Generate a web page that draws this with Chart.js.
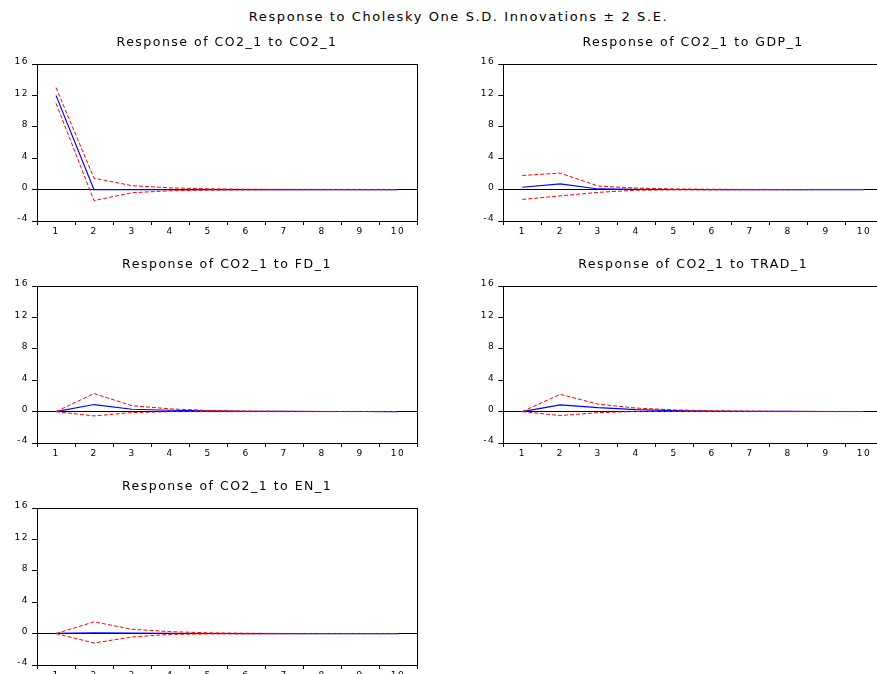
<!DOCTYPE html>
<html><head><meta charset="utf-8">
<script src="https://cdn.jsdelivr.net/npm/chart.js@4/dist/chart.umd.min.js"></script>
<style>
html,body{margin:0;padding:0;overflow:hidden;background:#fff;width:877px;height:674px;}
#main{position:absolute;left:0;top:9px;width:917px;text-align:center;font:13px 'DejaVu Sans',sans-serif;line-height:16px;letter-spacing:1.6px;color:#000;white-space:nowrap;}
canvas{position:absolute;}
</style></head><body>
<div id="main">Response to Cholesky One S.D. Innovations ± 2 S.E.</div>
<canvas id="c1" width="440" height="220" style="left:0px;top:26px"></canvas>
<canvas id="c2" width="424" height="220" style="left:466px;top:26px"></canvas>
<canvas id="c3" width="440" height="220" style="left:0px;top:248px"></canvas>
<canvas id="c4" width="424" height="220" style="left:466px;top:248px"></canvas>
<canvas id="c5" width="440" height="220" style="left:0px;top:470px"></canvas>
<script>
// ---- data ----
const periods = ['1','2','3','4','5','6','7','8','9','10'];
const yTicks = [-4, 0, 4, 8, 12, 16];
const panelTitles = [
  'Response of CO2_1 to CO2_1',
  'Response of CO2_1 to GDP_1',
  'Response of CO2_1 to FD_1',
  'Response of CO2_1 to TRAD_1',
  'Response of CO2_1 to EN_1'
];

const co2Resp  = [12.0, 0.0, 0.0, 0.0, 0.0, 0.0, 0.0, 0.0, 0.0, 0.0];
const co2Upper = [13.0, 1.45, 0.5, 0.22, 0.1, 0.05, 0.03, 0.02, 0.01, 0.01];
const co2Lower = [11.0, -1.4, -0.4, -0.15, -0.06, -0.03, -0.02, -0.01, -0.01, -0.01];

const gdpResp  = [0.3, 0.72, 0.08, 0.02, 0.01, 0.0, 0.0, 0.0, 0.0, 0.0];
const gdpUpper = [1.8, 2.1, 0.45, 0.2, 0.08, 0.04, 0.02, 0.01, 0.01, 0.01];
const gdpLower = [-1.25, -0.8, -0.35, -0.08, -0.03, -0.02, -0.01, -0.01, 0.0, 0.0];

const fdResp  = [0.0, 0.9, 0.3, 0.17, 0.08, 0.04, 0.02, 0.01, 0.01, 0.0];
const fdUpper = [0.0, 2.3, 0.75, 0.35, 0.15, 0.07, 0.04, 0.02, 0.01, 0.01];
const fdLower = [0.0, -0.55, -0.13, 0.0, 0.0, 0.0, 0.0, 0.0, 0.0, 0.0];

const tradResp  = [0.0, 0.85, 0.5, 0.26, 0.13, 0.07, 0.04, 0.02, 0.01, 0.01];
const tradUpper = [0.0, 2.2, 0.95, 0.45, 0.22, 0.11, 0.06, 0.03, 0.02, 0.01];
const tradLower = [0.0, -0.5, -0.13, 0.02, 0.02, 0.01, 0.01, 0.0, 0.0, 0.0];

const enResp  = [0.03, 0.1, 0.06, 0.03, 0.01, 0.0, 0.0, 0.0, 0.0, 0.0];
const enUpper = [0.0, 1.5, 0.55, 0.25, 0.1, 0.05, 0.02, 0.01, 0.01, 0.0];
const enLower = [0.0, -1.2, -0.43, -0.1, -0.04, -0.02, -0.01, 0.0, 0.0, 0.0];

// ---- drawing ----
Chart.defaults.font.family = "'DejaVu Sans', sans-serif";
Chart.defaults.color = '#000';

const framePlugin = {
  id: 'frame',
  beforeDraw(chart) { chart.ctx.letterSpacing = '1.5px'; },
  afterDraw(chart) {
    const a = chart.chartArea, ctx = chart.ctx;
    ctx.save();
    ctx.strokeStyle = '#000';
    ctx.lineWidth = 1;
    ctx.strokeRect(Math.round(a.left) + 0.5, Math.round(a.top) + 0.5,
                   Math.round(a.right) - Math.round(a.left), Math.round(a.bottom) - Math.round(a.top));
    ctx.restore();
  }
};

function makePanel(id, title, resp, upper, lower, yAxisWidth, rightPad) {
  const dashed = (data) => ({
    data: data, borderColor: '#ff0000', borderWidth: 1, borderDash: [4, 2],
    pointRadius: 0, fill: false, tension: 0
  });
  new Chart(document.getElementById(id), {
    type: 'line',
    data: {
      labels: periods,
      datasets: [
        dashed(upper),
        dashed(lower),
        { data: resp, borderColor: '#0000ff', borderWidth: 1.2, pointRadius: 0, fill: false, tension: 0 }
      ]
    },
    options: {
      responsive: false,
      animation: false,
      layout: { padding: { left: 0, right: rightPad, top: 0, bottom: 0 } },
      plugins: {
        legend: { display: false },
        tooltip: { enabled: false },
        title: {
          display: true, text: title, color: '#000', fullSize: false,
          font: { size: 12.5, weight: 'normal' },
          padding: { top: 9.5, bottom: 13.5 }
        }
      },
      scales: {
        x: {
          type: 'category', offset: true,
          grid: { offset: true, drawOnChartArea: false, drawTicks: true, tickLength: 4, color: '#000', tickColor: '#000' },
          border: { display: true, color: '#000', width: 1 },
          ticks: { font: { size: 9 }, color: '#000', padding: 1, maxRotation: 0, autoSkip: false },
          afterFit(s) { s.height = 25; }
        },
        y: {
          min: yTicks[0], max: yTicks[yTicks.length - 1],
          ticks: { stepSize: yTicks[1] - yTicks[0], font: { size: 9 }, color: '#000', padding: 3, labelOffset: -2 },
          grid: {
            color: (c) => (c.tick && c.tick.value === 0) ? '#000' : 'rgba(0,0,0,0)',
            tickColor: '#000', tickLength: 5, drawTicks: true, lineWidth: 1
          },
          border: { display: true, color: '#000', width: 1 },
          afterFit(s) { s.width = yAxisWidth; }
        }
      }
    },
    plugins: [framePlugin]
  });
}

makePanel('c1', panelTitles[0], co2Resp,  co2Upper,  co2Lower,  37,   23);
makePanel('c2', panelTitles[1], gdpResp,  gdpUpper,  gdpLower,  37.3, 7);
makePanel('c3', panelTitles[2], fdResp,   fdUpper,   fdLower,   37,   23);
makePanel('c4', panelTitles[3], tradResp, tradUpper, tradLower, 37.3, 7);
makePanel('c5', panelTitles[4], enResp,   enUpper,   enLower,   37,   23);
</script>
</body></html>
